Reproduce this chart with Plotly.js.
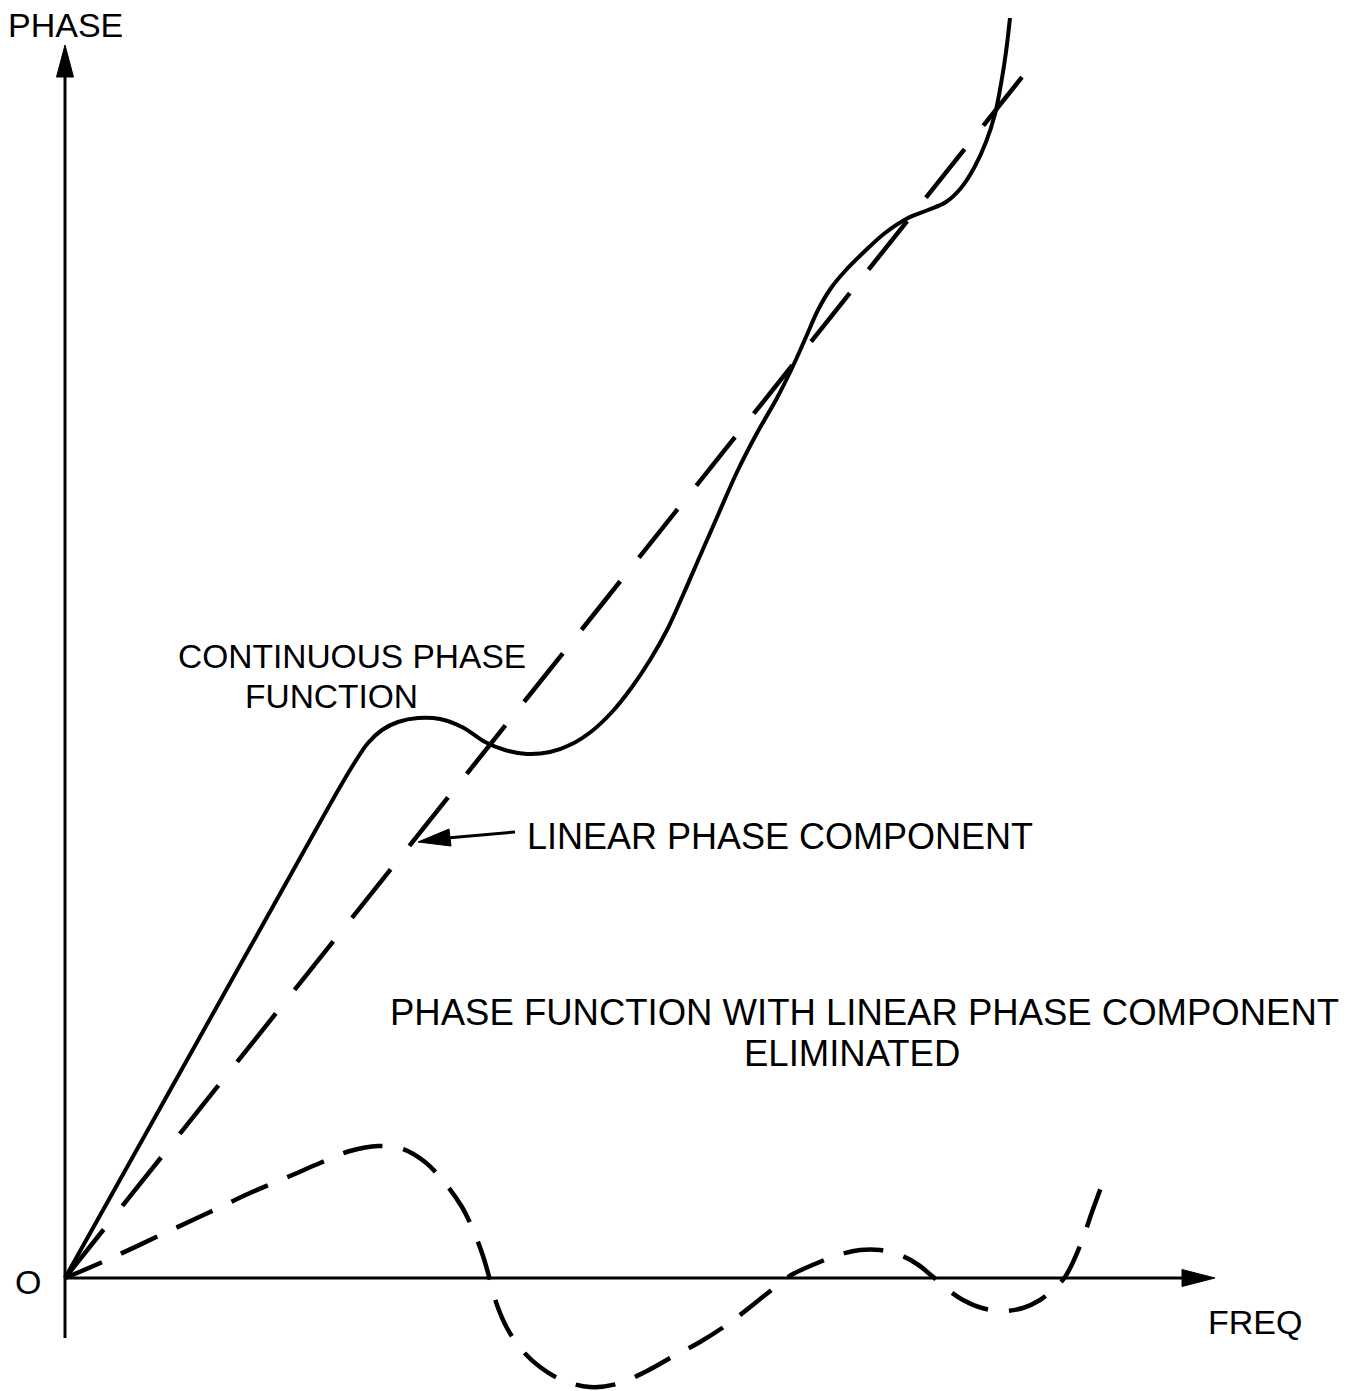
<!DOCTYPE html>
<html>
<head>
<meta charset="utf-8">
<script src="https://cdn.plot.ly/plotly-3.0.1.min.js"></script>
<style>html,body{margin:0;padding:0;background:#fff;}#chart{width:1357px;height:1391px;}</style>
</head>
<body>
<div id="chart"></div>
<script>
// Continuous phase function (solid)
const contFreq  = [0,75,150,225,275,290,303,317,333,353,375,397,420,440,462,485,507,527,547,567,585,602,618,635,653,672,692,712,728,741,753,766,781,799,820,843,863,881,896,909,921,930,936,941,945];
const contPhase = [0,134,268,402,491,516,535,548,556,560,559,551,536,528,524,526,534,547,566,591,618,648,683,722,763,806,845,880,912,941,968,990,1008,1026,1045,1060,1068,1076,1090,1110,1136,1164,1194,1226,1260];

// Linear phase component (dashed straight line)
const linFreq  = [0,957];
const linPhase = [0,1201];

// Phase function with linear phase component eliminated (dashed)
const elimFreq  = [0,42,102,145,185,225,255,285,313,338,360,380,397,409,418,425,432,442,456,475,497,525,552,580,607,635,663,689,709,728,750,773,795,815,835,852,867,882,898,917,938,958,975,990,1000,1009,1018,1027,1038];
const elimPhase = [0,18,46,66,85,102,115,127,132,129,116,95,71,46,22,-2,-27,-50,-71,-89,-102,-109,-106,-94,-79,-64,-46,-26,-10,4,14,23,28,28,23,14,2,-11,-22,-30,-33,-30,-22,-10,1,18,40,66,96];

// Labels
const yLabel = "PHASE";
const xLabel = "FREQ";
const originLabel = "O";
const contLabel = ["CONTINUOUS PHASE", "FUNCTION"];
const linLabel = "LINEAR PHASE COMPONENT";
const elimLabel = ["PHASE FUNCTION WITH LINEAR PHASE COMPONENT", "ELIMINATED"];

const FONT = "Liberation Sans, Arial, sans-serif";
const ink = "#000";

const traces = [
  {x: contFreq, y: contPhase, mode: "lines", line: {color: ink, width: 4, shape: "spline", smoothing: 1}, hoverinfo: "skip"},
  {x: linFreq, y: linPhase, mode: "lines", line: {color: ink, width: 4.5, dash: "62px,30.1px"}, hoverinfo: "skip"},
  {x: elimFreq, y: elimPhase, mode: "lines", line: {color: ink, width: 4.5, dash: "40px,21px", shape: "spline", smoothing: 1}, hoverinfo: "skip"}
];

const shapes = [
  // y axis
  {type: "line", xref: "x", yref: "y", x0: 0, y0: -60, x1: 0, y1: 1203, line: {color: ink, width: 3}},
  {type: "path", xref: "x", yref: "y", path: "M 0 1233 L -8.5 1201 L 8.5 1201 Z", fillcolor: ink, line: {color: ink, width: 1}},
  // x axis
  {type: "line", xref: "x", yref: "y", x0: 0, y0: 0, x1: 1120, y1: 0, line: {color: ink, width: 3}},
  {type: "path", xref: "x", yref: "y", path: "M 1150 0 L 1117 8.5 L 1117 -8.5 Z", fillcolor: ink, line: {color: ink, width: 1}},
  // pointer for linear phase label
  {type: "line", xref: "x", yref: "y", x0: 450, y0: 446, x1: 382, y1: 440, line: {color: ink, width: 3}},
  {type: "path", xref: "x", yref: "y", path: "M 353 436 L 384 449 L 386 432 Z", fillcolor: ink, line: {color: ink, width: 1}}
];

function ann(text, x, y, size, xanchor) {
  return {text: text, x: x, y: y, xref: "x", yref: "y", showarrow: false,
          xanchor: xanchor || "center", yanchor: "middle",
          font: {family: FONT, size: size, color: ink}};
}

const annotations = [
  ann(yLabel, 0.5, 1253, 34),
  ann(originLabel, -37, -4, 34),
  ann(xLabel, 1190, -44, 34),
  ann(contLabel[0], 287, 622, 33.5),
  ann(contLabel[1], 266, 582, 33.5),
  ann(linLabel, 460, 442, 36, "left"),
  ann(elimLabel[0], 799, 266, 36.5),
  ann(elimLabel[1], 787, 225, 36.5)
];

const layout = {
  width: 1357, height: 1391,
  margin: {l: 0, r: 0, t: 0, b: 0, pad: 0},
  paper_bgcolor: "#fff", plot_bgcolor: "#fff",
  showlegend: false,
  xaxis: {range: [-65, 1292], visible: false, fixedrange: true},
  yaxis: {range: [-113, 1278], visible: false, fixedrange: true},
  shapes: shapes,
  annotations: annotations
};

Plotly.newPlot("chart", traces, layout, {staticPlot: true, displayModeBar: false});
</script>
</body>
</html>
